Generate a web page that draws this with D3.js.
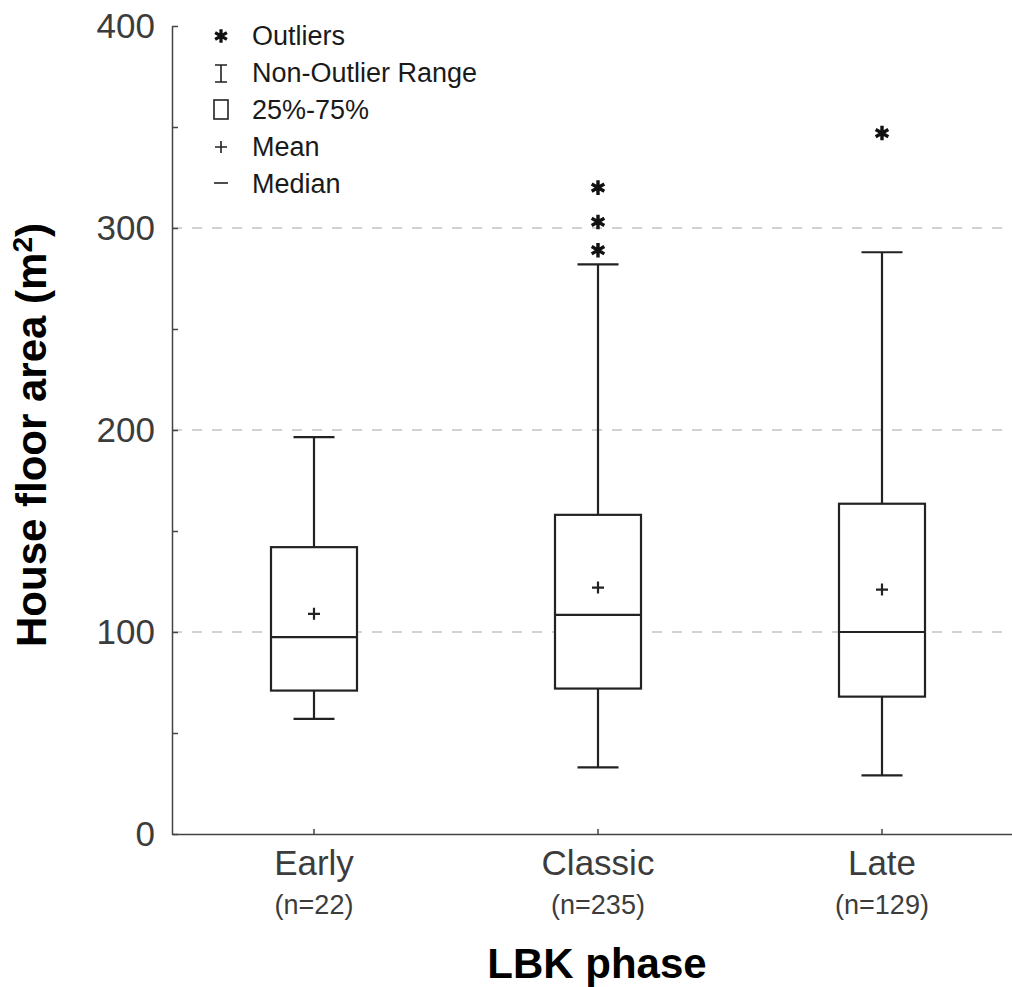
<!DOCTYPE html>
<html>
<head>
<meta charset="utf-8">
<script src="https://cdn.jsdelivr.net/npm/d3@7"></script>
<style>
  html, body { margin: 0; background: #fff; overflow: hidden; }
  svg { display: block; }
  text { font-family: "Liberation Sans", Arial, sans-serif; }
</style>
</head>
<body>
<script>
// box plot values (m2)
const phases = ["Early", "Classic", "Late"];
const counts = [22, 235, 129];
const whiskerLow = [57, 33, 29];
const q1 = [71, 72, 68];
const median = [97.5, 108.5, 100];
const q3 = [142, 158, 163.5];
const whiskerHigh = [196.5, 282, 288];
const means = [109, 122, 121];
const outliers = [[], [289, 303, 320], [347]];
const yTicks = [0, 50, 100, 150, 200, 250, 300, 350, 400];
const gridValues = [100, 200, 300];
const legendItems = ["Outliers", "Non-Outlier Range", "25%-75%", "Mean", "Median"];

const W = 1012, H = 987;
const plotLeft = 172, plotBottom = 834, plotTop = 26;

const svg = d3.select("body").append("svg")
  .attr("width", W)
  .attr("height", H);

svg.append("rect").attr("width", W).attr("height", H).attr("fill", "#fff");

const y = d3.scaleLinear().domain([0, 400]).range([plotBottom, plotTop]);
const x = d3.scaleBand().domain(phases).range([plotLeft, 1024]);
const cx = d => x(d) + x.bandwidth() / 2;

// dashed grid lines
svg.append("g").selectAll("line")
  .data(gridValues)
  .join("line")
  .attr("x1", plotLeft).attr("x2", W)
  .attr("y1", d => y(d)).attr("y2", d => y(d))
  .attr("stroke", "#c4c4c4")
  .attr("stroke-width", 1.3)
  .attr("stroke-dasharray", "10,10");

// y axis
const yAxis = svg.append("g")
  .attr("transform", `translate(${plotLeft},0)`)
  .call(d3.axisLeft(y)
    .tickValues(yTicks)
    .tickSizeInner(-6)
    .tickSizeOuter(0)
    .tickPadding(17)
    .tickFormat(d => d % 100 === 0 ? d : ""));
yAxis.selectAll("path, line").attr("stroke", "#444").attr("stroke-width", 1.5);
yAxis.selectAll("text")
  .attr("font-size", 35)
  .attr("fill", "#3c3c3c")
  .style("font-family", "Liberation Sans, Arial, sans-serif");

// x axis
const xAxis = svg.append("g")
  .attr("transform", `translate(0,${plotBottom})`)
  .call(d3.axisBottom(x).tickSizeInner(-5).tickSizeOuter(0).tickFormat(""));
xAxis.selectAll("path, line").attr("stroke", "#444").attr("stroke-width", 1.5);

const labels = svg.append("g");
labels.selectAll("text.cat")
  .data(phases)
  .join("text")
  .attr("class", "cat")
  .attr("x", d => cx(d))
  .attr("y", 875)
  .attr("text-anchor", "middle")
  .attr("font-size", 35)
  .attr("fill", "#3c3c3c")
  .text(d => d);
labels.selectAll("text.n")
  .data(phases)
  .join("text")
  .attr("class", "n")
  .attr("x", d => cx(d))
  .attr("y", 914)
  .attr("text-anchor", "middle")
  .attr("font-size", 27)
  .attr("fill", "#3c3c3c")
  .text((d, i) => `(n=${counts[i]})`);

// axis titles
svg.append("text")
  .attr("x", 597).attr("y", 978)
  .attr("text-anchor", "middle")
  .attr("font-size", 42)
  .attr("font-weight", "bold")
  .attr("fill", "#000")
  .text("LBK phase");

const yTitle = svg.append("text")
  .attr("transform", "translate(46,435) rotate(-90)")
  .attr("text-anchor", "middle")
  .attr("font-size", 42)
  .attr("font-weight", "bold")
  .attr("fill", "#000");
yTitle.append("tspan").text("House floor area (m");
yTitle.append("tspan").attr("font-size", 28).attr("dy", -14).text("2");
yTitle.append("tspan").attr("dy", 14).text(")");

// boxes
const boxW = 86, capW = 41, ink = "#222";
const g = svg.append("g").attr("stroke", ink).attr("stroke-width", 2.2).attr("fill", "none");

phases.forEach((p, i) => {
  const c = cx(p);
  g.append("line").attr("x1", c).attr("x2", c).attr("y1", y(whiskerHigh[i])).attr("y2", y(q3[i]));
  g.append("line").attr("x1", c).attr("x2", c).attr("y1", y(q1[i])).attr("y2", y(whiskerLow[i]));
  g.append("line").attr("x1", c - capW / 2).attr("x2", c + capW / 2).attr("y1", y(whiskerHigh[i])).attr("y2", y(whiskerHigh[i]));
  g.append("line").attr("x1", c - capW / 2).attr("x2", c + capW / 2).attr("y1", y(whiskerLow[i])).attr("y2", y(whiskerLow[i]));
  g.append("rect")
    .attr("x", c - boxW / 2).attr("width", boxW)
    .attr("y", y(q3[i])).attr("height", y(q1[i]) - y(q3[i]))
    .attr("fill", "#fff");
  g.append("line").attr("x1", c - boxW / 2).attr("x2", c + boxW / 2).attr("y1", y(median[i])).attr("y2", y(median[i]));
  // mean plus
  g.append("path")
    .attr("transform", `translate(${c},${y(means[i])})`)
    .attr("d", "M-6,0H6M0,-6V6");
  // outliers
  g.selectAll(null)
    .data(outliers[i])
    .join("path")
    .attr("transform", d => `translate(${c},${y(d)})`)
    .attr("d", d3.symbol(d3.symbolAsterisk, 150))
    .attr("stroke-width", 3.4)
    .attr("stroke", "#111");
});

// legend
const lg = svg.append("g");
const rowY = i => 45 + i * 37;
lg.selectAll("text")
  .data(legendItems)
  .join("text")
  .attr("x", 252)
  .attr("y", (d, i) => rowY(i))
  .attr("font-size", 27)
  .attr("fill", "#1a1a1a")
  .text(d => d);

const sx = 221;
lg.append("path")
  .attr("transform", `translate(${sx},${rowY(0) - 9})`)
  .attr("d", d3.symbol(d3.symbolAsterisk, 130))
  .attr("stroke", "#111").attr("stroke-width", 3.2).attr("fill", "none");
const li = lg.append("g").attr("stroke", "#222").attr("stroke-width", 1.6).attr("fill", "none");
li.append("path").attr("d", `M${sx - 6},${rowY(1) - 17}H${sx + 6}M${sx},${rowY(1) - 17}V${rowY(1)}M${sx - 6},${rowY(1)}H${sx + 6}`);
li.append("rect").attr("x", sx - 7).attr("y", rowY(2) - 19).attr("width", 14).attr("height", 19);
li.append("path").attr("d", `M${sx - 6},${rowY(3) - 9}H${sx + 6}M${sx},${rowY(3) - 15}V${rowY(3) - 3}`);
li.append("path").attr("d", `M${sx - 7},${rowY(4) - 10}H${sx + 7}`);
</script>
</body>
</html>
